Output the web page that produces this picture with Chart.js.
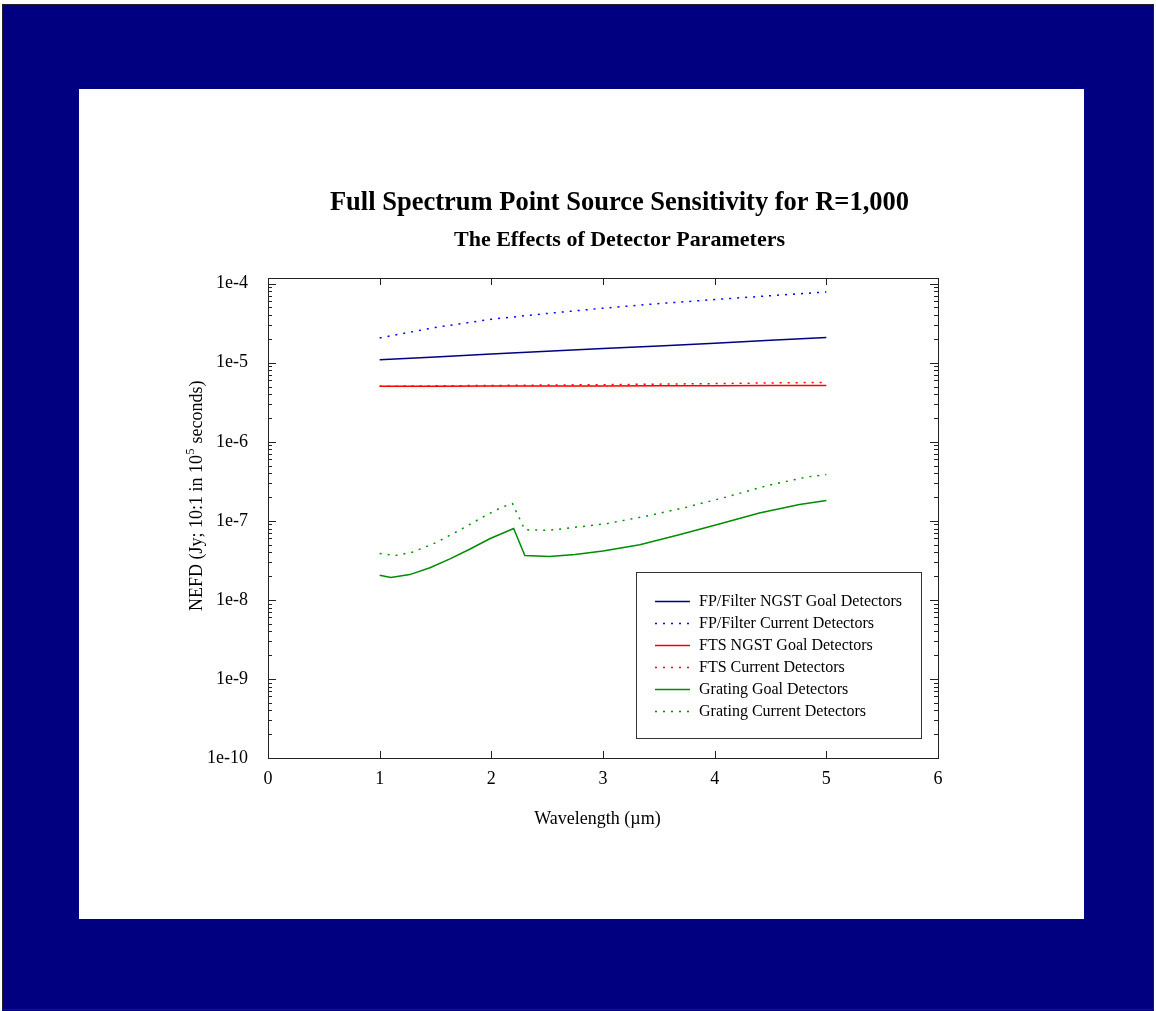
<!DOCTYPE html>
<html lang="en">
  <head>
    <meta charset="UTF-8" />
    <title>Full Spectrum Point Source Sensitivity for R=1,000</title>
    <script src="https://cdn.jsdelivr.net/npm/chart.js"></script>
    <style>
      html,
      body {
        margin: 0;
        padding: 0;
        background: #fff;
      }
      canvas {
        display: block;
      }
    </style>
  </head>
  <body>
    <canvas id="chartCanvas" width="1156" height="1011"></canvas>

    <script>
      // wavelength (um) and NEFD (Jy)
      const filterX = [1, 1.5, 2, 2.5, 3, 3.5, 4, 4.5, 5];
      const fpGoal = [1.09e-5, 1.18e-5, 1.29e-5, 1.4e-5, 1.51e-5, 1.63e-5, 1.77e-5, 1.92e-5, 2.09e-5];
      const fpCurrent = [2.06e-5, 2.8e-5, 3.55e-5, 4.2e-5, 4.9e-5, 5.6e-5, 6.3e-5, 7.05e-5, 7.85e-5];
      const ftsGoal = [5.04e-6, 5.05e-6, 5.06e-6, 5.07e-6, 5.09e-6, 5.1e-6, 5.12e-6, 5.14e-6, 5.16e-6];
      const ftsCurrent = [5.04e-6, 5.1e-6, 5.16e-6, 5.22e-6, 5.28e-6, 5.36e-6, 5.45e-6, 5.55e-6, 5.65e-6];

      const gratingGoalX = [1.0, 1.1, 1.27, 1.45, 1.63, 1.81, 1.99, 2.2, 2.3, 2.52, 2.75, 3.0, 3.33, 3.69, 4.05, 4.4, 4.76, 5.0];
      const gratingGoal = [2.05e-8, 1.92e-8, 2.09e-8, 2.55e-8, 3.3e-8, 4.4e-8, 5.97e-8, 8.0e-8, 3.64e-8, 3.55e-8, 3.75e-8, 4.15e-8, 4.97e-8, 6.7e-8, 9.2e-8, 1.26e-7, 1.61e-7, 1.81e-7];
      const gratingCurrentX = [1.0, 1.14, 1.29, 1.5, 1.71, 1.94, 2.09, 2.19, 2.3, 2.52, 3.03, 3.39, 3.75, 4.11, 4.47, 4.83, 5.0];
      const gratingCurrent = [3.86e-8, 3.64e-8, 4.0e-8, 5.27e-8, 7.54e-8, 1.15e-7, 1.48e-7, 1.65e-7, 7.7e-8, 7.6e-8, 9.2e-8, 1.15e-7, 1.49e-7, 2.01e-7, 2.79e-7, 3.6e-7, 3.85e-7];

      const seriesNames = [
        "FP/Filter NGST Goal Detectors",
        "FP/Filter Current Detectors",
        "FTS NGST Goal Detectors",
        "FTS Current Detectors",
        "Grating Goal Detectors",
        "Grating Current Detectors",
      ];
      const yDecades = [1e-10, 1e-9, 1e-8, 1e-7, 1e-6, 1e-5, 1e-4];
      const xTicks = [0, 1, 2, 3, 4, 5, 6];

      const serif = "'Liberation Serif', 'Times New Roman', serif";
      const dotted = [2, 6];

      function pts(xs, ys) {
        return xs.map((x, i) => ({ x: x, y: ys[i] }));
      }

      function line(label, xs, ys, color, dash) {
        return {
          label: label,
          data: pts(xs, ys),
          borderColor: color,
          borderWidth: 1.5,
          borderDash: dash,
          pointRadius: 0,
          fill: false,
          tension: 0,
        };
      }

      // background, frame with inward ticks, titles and the boxed legend
      const decorations = {
        id: "decorations",
        beforeDraw(chart) {
          const c = chart.ctx;
          c.save();
          c.fillStyle = "#fff";
          c.fillRect(0, 0, chart.width, chart.height);
          c.fillStyle = "#000080";
          c.fillRect(2, 4, 1152, 1007);
          c.strokeStyle = "#222";
          c.lineWidth = 1;
          c.strokeRect(2.5, 4.5, 1151, 1005);
          c.fillStyle = "#fff";
          c.fillRect(79, 89, 1005, 830);
          c.restore();
        },
        afterDraw(chart) {
          const c = chart.ctx;
          const a = chart.chartArea;
          const xs = chart.scales.x;
          const ys = chart.scales.y;
          c.save();
          c.strokeStyle = "#222";
          c.lineWidth = 1;
          c.strokeRect(Math.round(a.left) + 0.5, Math.round(a.top) + 0.5, Math.round(a.right - a.left), Math.round(a.bottom - a.top));

          c.beginPath();
          xTicks.forEach((v) => {
            const px = Math.round(xs.getPixelForValue(v)) + 0.5;
            c.moveTo(px, a.bottom);
            c.lineTo(px, a.bottom - 7);
            c.moveTo(px, a.top);
            c.lineTo(px, a.top + 7);
          });
          yDecades.forEach((d) => {
            for (let m = 1; m <= 9; m++) {
              const v = d * m;
              if (v > ys.max) break;
              const len = m === 1 ? 8 : 4;
              const py = Math.round(ys.getPixelForValue(v)) + 0.5;
              c.moveTo(a.left, py);
              c.lineTo(a.left + len, py);
              c.moveTo(a.right, py);
              c.lineTo(a.right - len, py);
            }
          });
          c.stroke();

          c.fillStyle = "#000";
          c.textAlign = "center";
          c.textBaseline = "alphabetic";
          c.font = "bold 26.5px " + serif;
          c.fillText("Full Spectrum Point Source Sensitivity for R=1,000", 619.5, 210);
          c.font = "bold 22px " + serif;
          c.fillText("The Effects of Detector Parameters", 619.5, 246);
          c.font = "18px " + serif;
          c.fillText("Wavelength (\u00b5m)", 597.5, 824);

          // y title with superscript exponent
          const p1 = "NEFD (Jy; 10:1 in 10";
          const p2 = "5";
          const p3 = " seconds)";
          c.save();
          c.translate(202, 611);
          c.rotate(-Math.PI / 2);
          c.textAlign = "left";
          c.font = "18px " + serif;
          const w1 = c.measureText(p1).width;
          c.fillText(p1, 0, 0);
          c.font = "12px " + serif;
          const w2 = c.measureText(p2).width;
          c.fillText(p2, w1 + 0.5, -8);
          c.font = "18px " + serif;
          c.fillText(p3, w1 + w2 + 1, 0);
          c.restore();

          // legend
          c.strokeStyle = "#333";
          c.strokeRect(636.5, 572.5, 285, 166);
          c.font = "16px " + serif;
          c.textAlign = "left";
          c.textBaseline = "middle";
          chart.data.datasets.forEach((ds, i) => {
            const y = Math.round(600.7 + i * 22.07) + 0.5;
            c.save();
            c.strokeStyle = ds.borderColor;
            c.lineWidth = 1.5;
            c.setLineDash(ds.borderDash || []);
            c.beginPath();
            c.moveTo(655, y);
            c.lineTo(690, y);
            c.stroke();
            c.restore();
            c.fillStyle = "#000";
            c.fillText(ds.label, 699, y);
          });
          c.restore();
        },
      };

      const ctx = document.getElementById("chartCanvas").getContext("2d");
      const chart = new Chart(ctx, {
        type: "line",
        data: {
          datasets: [
            line(seriesNames[0], filterX, fpGoal, "#000080", []),
            line(seriesNames[1], filterX, fpCurrent, "#0000ff", dotted),
            line(seriesNames[2], filterX, ftsGoal, "#ff0000", []),
            line(seriesNames[3], filterX, ftsCurrent, "#ff0000", dotted),
            line(seriesNames[4], gratingGoalX, gratingGoal, "#008c00", []),
            line(seriesNames[5], gratingCurrentX, gratingCurrent, "#008c00", dotted),
          ],
        },
        options: {
          responsive: false,
          animation: false,
          layout: {
            padding: { left: 0, right: 218, top: 278, bottom: 213 },
          },
          plugins: {
            legend: { display: false },
            title: { display: false },
            tooltip: { enabled: false },
          },
          scales: {
            x: {
              type: "linear",
              min: 0,
              max: 6,
              grid: { display: false, drawTicks: false },
              border: { display: false },
              ticks: {
                stepSize: 1,
                padding: 10,
                color: "#000",
                font: { family: serif, size: 18 },
              },
              afterFit(scale) {
                scale.height = 40;
              },
            },
            y: {
              type: "logarithmic",
              min: 1e-10,
              max: 1.18e-4,
              bounds: "data",
              grid: { display: false, drawTicks: false },
              border: { display: false },
              ticks: {
                padding: 20,
                color: "#000",
                autoSkip: false,
                font: { family: serif, size: 18 },
                callback: (v) => "1e" + Math.round(Math.log10(v)),
              },
              afterBuildTicks(scale) {
                scale.ticks = yDecades.map((v) => ({ value: v }));
              },
              afterFit(scale) {
                scale.width = 268;
              },
            },
          },
        },
        plugins: [decorations],
      });
    </script>
  </body>
</html>
